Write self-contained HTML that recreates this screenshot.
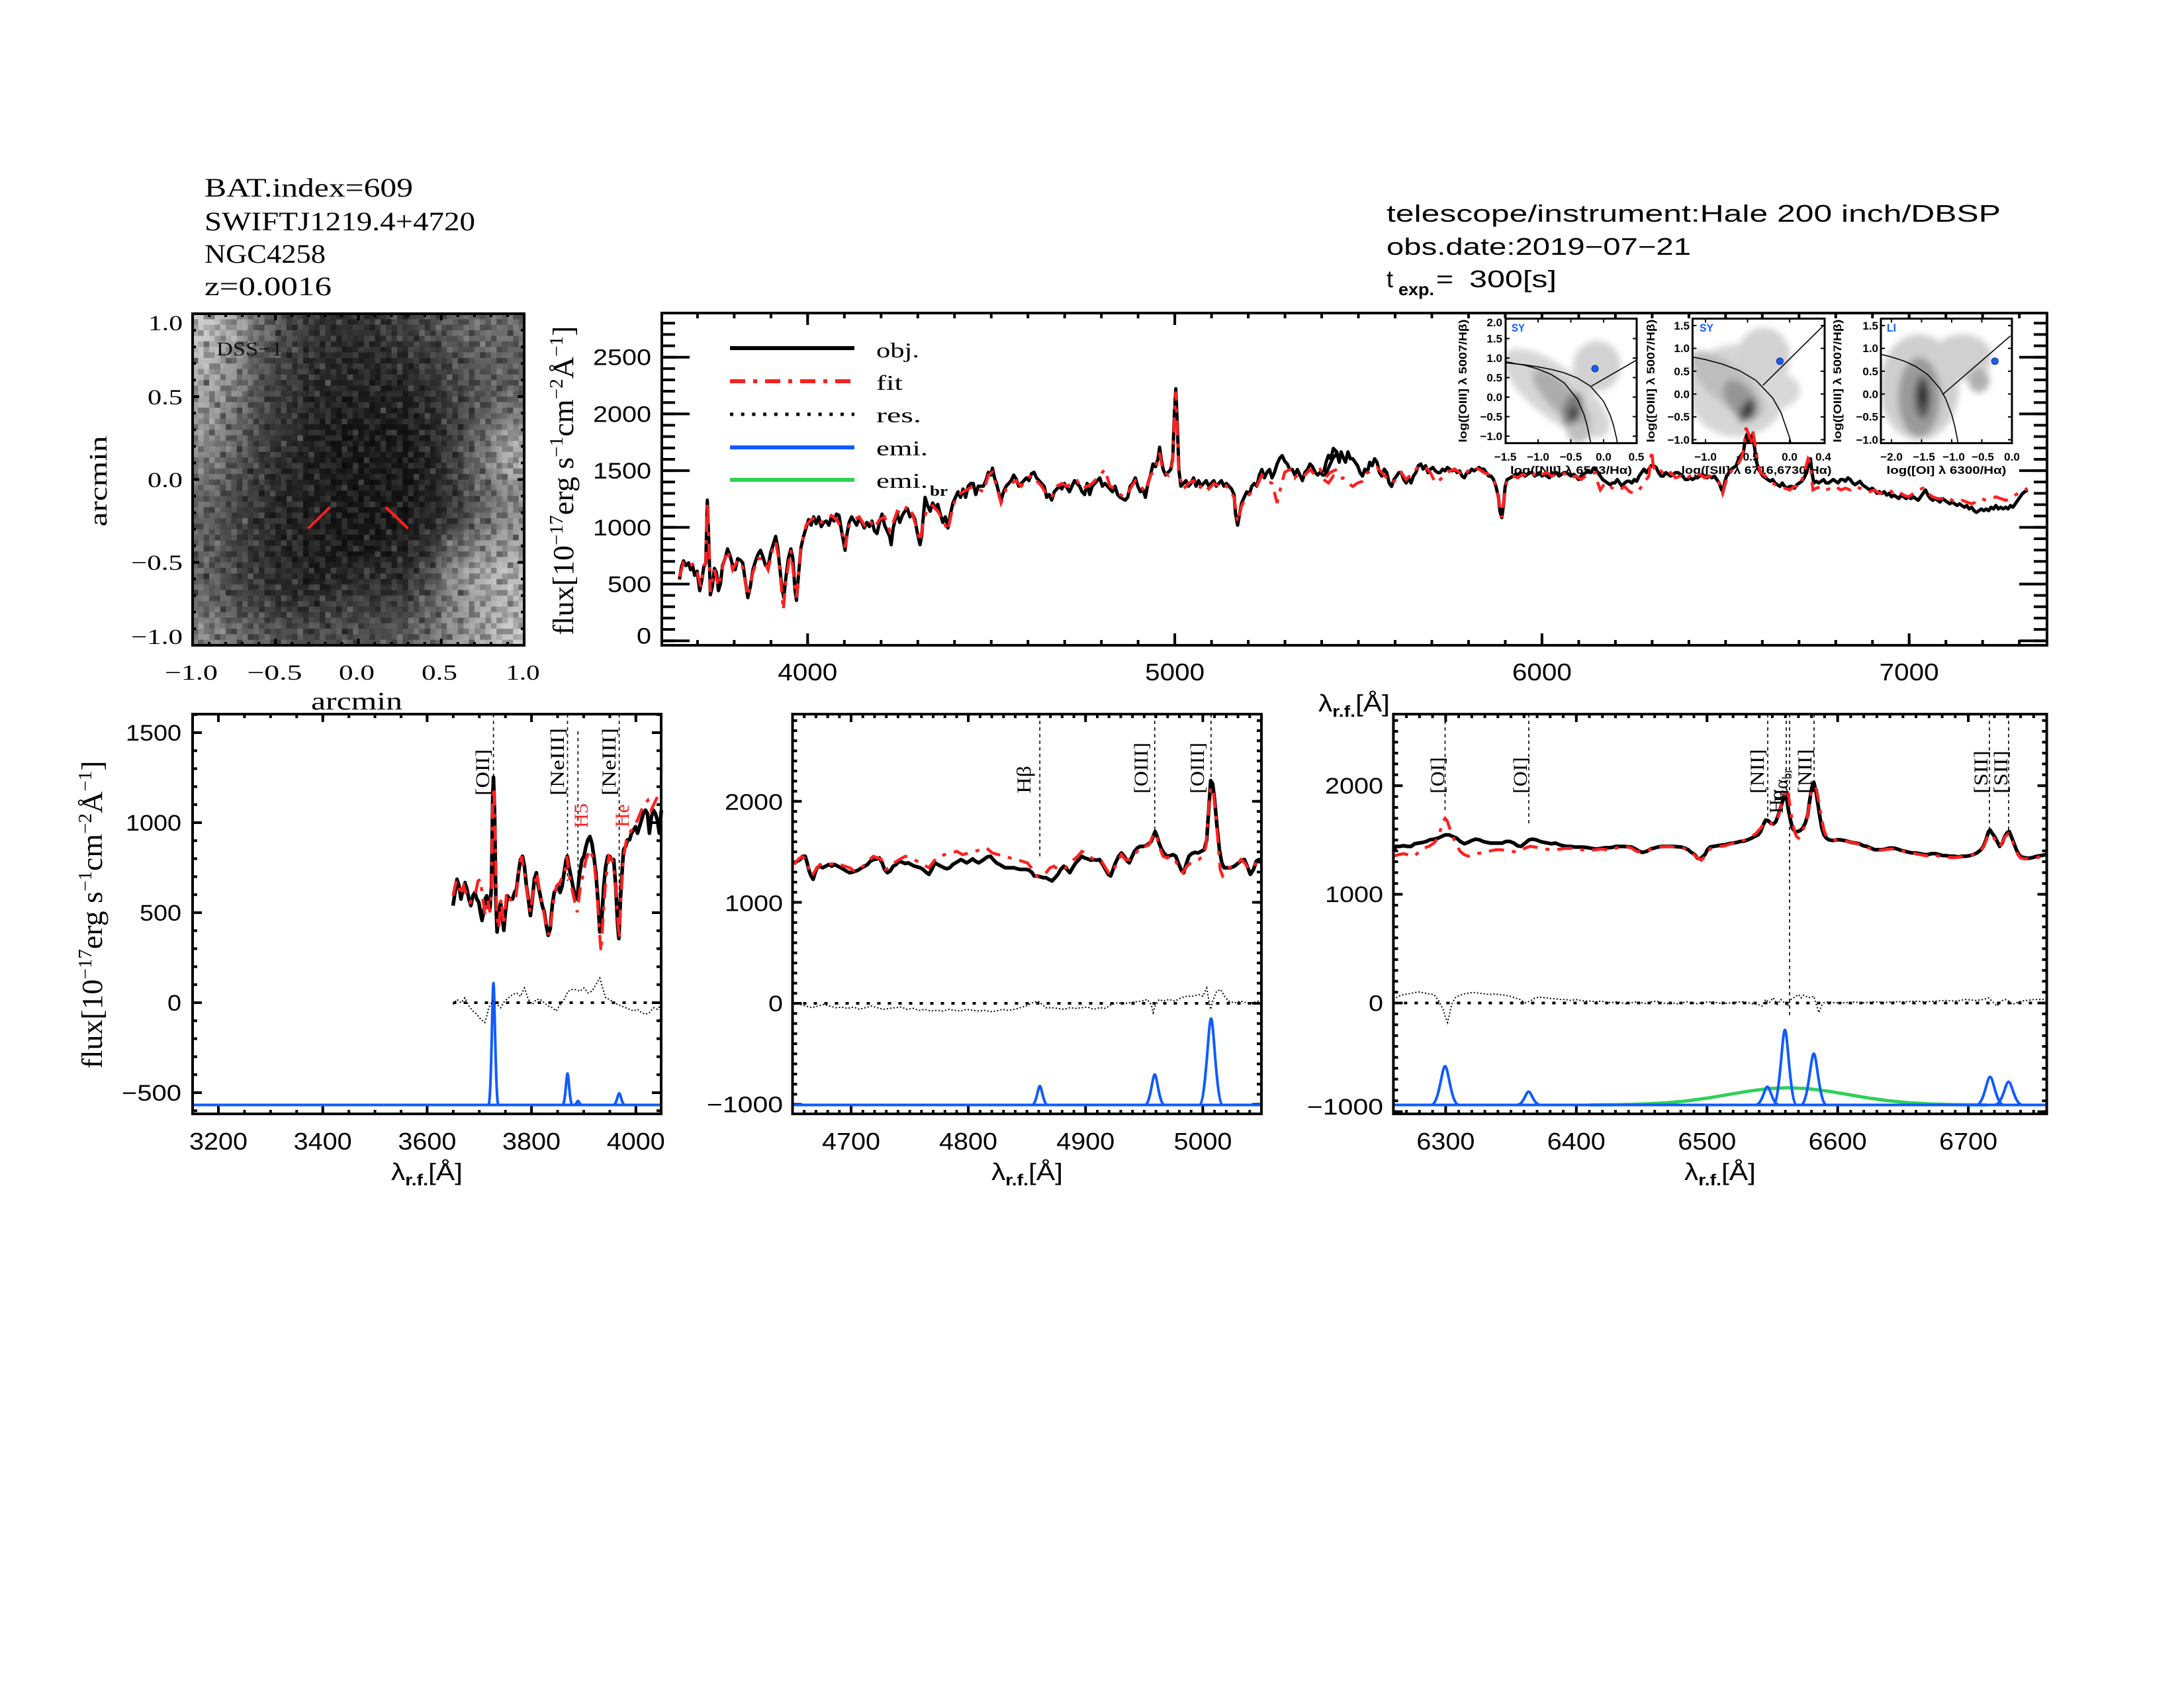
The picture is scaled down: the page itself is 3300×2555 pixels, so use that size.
<!DOCTYPE html>
<html><head><meta charset="utf-8"><style>
html,body{margin:0;padding:0;background:#fff}
.s{font-family:"Liberation Sans",Arial,sans-serif}
.r{font-family:"Liberation Serif","Times New Roman",serif}
.k{fill:none;stroke:#000;stroke-width:5;stroke-linejoin:round}
.kt{fill:none;stroke:#000;stroke-width:5.5;stroke-linejoin:round}
.rf{fill:none;stroke:#ff2020;stroke-width:4.5;stroke-dasharray:23 12 6 12}
.rs{fill:none;stroke:#000;stroke-width:2;stroke-dasharray:2 3}
.bl{fill:none;stroke:#0f5bff;stroke-width:4}
.vd{stroke:#000;stroke-width:1.6;stroke-dasharray:5 5}
.fr{fill:none;stroke:#000;stroke-width:4}
.tk line{stroke:#000}
</style></head><body>
<svg width="3300" height="2550" viewBox="0 0 3300 2550" xmlns="http://www.w3.org/2000/svg">
<defs>
<clipPath id="cimg"><rect x="291" y="474" width="501" height="501"/></clipPath>
<clipPath id="ci1"><rect x="2275" y="481.4" width="198" height="188.2"/></clipPath>
<clipPath id="ci2"><rect x="2557.4" y="481.4" width="199.6" height="188.2"/></clipPath>
<clipPath id="ci3"><rect x="2842" y="481.4" width="198" height="188.2"/></clipPath>
<filter id="bl5" x="-50%" y="-50%" width="200%" height="200%"><feGaussianBlur stdDeviation="5"/></filter>
<filter id="bimg" x="-10%" y="-10%" width="120%" height="120%"><feGaussianBlur stdDeviation="11"/></filter>
<pattern id="nA" patternUnits="userSpaceOnUse" x="291" y="474" width="58.45" height="58.45">
<g fill="#fff" fill-opacity=".1"><rect x="8.35" y="0" width="8.4" height="8.4"/><rect x="41.75" y="8.35" width="8.4" height="8.4"/><rect x="16.7" y="16.7" width="8.4" height="8.4"/><rect x="50.1" y="25.05" width="8.4" height="8.4"/><rect x="0" y="33.4" width="8.4" height="8.4"/><rect x="25.05" y="41.75" width="8.4" height="8.4"/><rect x="33.4" y="50.1" width="8.4" height="8.4"/></g>
<g fill="#000" fill-opacity=".3"><rect x="25.05" y="0" width="8.4" height="8.4"/><rect x="0" y="8.35" width="8.4" height="8.4"/><rect x="50.1" y="8.35" width="8.4" height="8.4"/><rect x="33.4" y="16.7" width="8.4" height="8.4"/><rect x="8.35" y="25.05" width="8.4" height="8.4"/><rect x="41.75" y="33.4" width="8.4" height="8.4"/><rect x="16.7" y="41.75" width="8.4" height="8.4"/><rect x="50.1" y="50.1" width="8.4" height="8.4"/></g>
<g fill="#fff" fill-opacity=".05"><rect x="0" y="0" width="8.4" height="8.4"/><rect x="33.4" y="33.4" width="8.4" height="8.4"/><rect x="16.7" y="25.05" width="8.4" height="8.4"/><rect x="41.75" y="50.1" width="8.4" height="8.4"/><rect x="50.1" y="16.7" width="8.4" height="8.4"/></g>
<g fill="#000" fill-opacity=".14"><rect x="16.7" y="0" width="8.4" height="8.4"/><rect x="25.05" y="16.7" width="8.4" height="8.4"/><rect x="8.35" y="41.75" width="8.4" height="8.4"/><rect x="33.4" y="41.75" width="8.4" height="8.4"/><rect x="0" y="50.1" width="8.4" height="8.4"/></g>
</pattern>
<pattern id="nB" patternUnits="userSpaceOnUse" x="291" y="474" width="50.1" height="50.1">
<g fill="#fff" fill-opacity=".09"><rect x="0" y="0" width="8.4" height="8.4"/><rect x="25.05" y="8.35" width="8.4" height="8.4"/><rect x="41.75" y="25.05" width="8.4" height="8.4"/><rect x="8.35" y="33.4" width="8.4" height="8.4"/><rect x="33.4" y="41.75" width="8.4" height="8.4"/></g>
<g fill="#000" fill-opacity=".2"><rect x="16.7" y="0" width="8.4" height="8.4"/><rect x="41.75" y="8.35" width="8.4" height="8.4"/><rect x="0" y="16.7" width="8.4" height="8.4"/><rect x="25.05" y="25.05" width="8.4" height="8.4"/><rect x="16.7" y="41.75" width="8.4" height="8.4"/><rect x="33.4" y="33.4" width="8.4" height="8.4"/></g>
</pattern>
<pattern id="nC" patternUnits="userSpaceOnUse" x="291" y="474" width="41.75" height="41.75">
<g fill="#fff" fill-opacity=".07"><rect x="8.35" y="8.35" width="8.4" height="8.4"/><rect x="33.4" y="16.7" width="8.4" height="8.4"/><rect x="16.7" y="33.4" width="8.4" height="8.4"/></g>
<g fill="#000" fill-opacity=".15"><rect x="25.05" y="0" width="8.4" height="8.4"/><rect x="0" y="25.05" width="8.4" height="8.4"/><rect x="16.7" y="16.7" width="8.4" height="8.4"/></g>
</pattern>
</defs>
<rect x="0" y="0" width="3300" height="2550" fill="#fff"/>

<!-- ===== Header texts ===== -->
<g class="r" font-size="40" fill="#000">
<text x="309" y="297" textLength="315" lengthAdjust="spacingAndGlyphs">BAT.index=609</text>
<text x="309" y="348" textLength="409" lengthAdjust="spacingAndGlyphs">SWIFTJ1219.4+4720</text>
<text x="309" y="397" textLength="183" lengthAdjust="spacingAndGlyphs">NGC4258</text>
<text x="309" y="446" textLength="192" lengthAdjust="spacingAndGlyphs">z=0.0016</text>
</g>
<g class="s" font-size="36" fill="#000">
<text x="2095" y="335" textLength="928" lengthAdjust="spacingAndGlyphs">telescope/instrument:Hale 200 inch/DBSP</text>
<text x="2095" y="385" textLength="460" lengthAdjust="spacingAndGlyphs">obs.date:2019−07−21</text>
<text x="2095" y="434">t</text>
<text x="2113" y="446" font-size="26" font-weight="bold" textLength="54" lengthAdjust="spacingAndGlyphs">exp.</text>
<text x="2170" y="434" textLength="26" lengthAdjust="spacingAndGlyphs">=</text>
<text x="2220" y="434" textLength="132" lengthAdjust="spacingAndGlyphs">300[s]</text>
</g>

<!-- ===== DSS image ===== -->
<g clip-path="url(#cimg)">
<rect x="291" y="474" width="501" height="501" fill="#2a2a2a"/>
<g filter="url(#bimg)">
<rect x="250" y="433" width="84" height="84" fill="#c8c8c8"/><rect x="332.75" y="433" width="42" height="84" fill="#aaaaaa"/><rect x="374.5" y="433" width="42" height="84" fill="#6e6e6e"/><rect x="416.25" y="433" width="42" height="84" fill="#464646"/><rect x="458" y="433" width="42" height="84" fill="#323232"/><rect x="499.75" y="433" width="42" height="84" fill="#2d2d2d"/><rect x="541.5" y="433" width="42" height="84" fill="#323232"/><rect x="583.25" y="433" width="42" height="84" fill="#3c3c3c"/><rect x="625" y="433" width="42" height="84" fill="#464646"/><rect x="666.75" y="433" width="42" height="84" fill="#646464"/><rect x="708.5" y="433" width="42" height="84" fill="#6e6e6e"/><rect x="750.25" y="433" width="84" height="84" fill="#6e6e6e"/>
<rect x="250" y="515.75" width="84" height="42" fill="#bebebe"/><rect x="332.75" y="515.75" width="42" height="42" fill="#969696"/><rect x="374.5" y="515.75" width="42" height="42" fill="#5a5a5a"/><rect x="416.25" y="515.75" width="42" height="42" fill="#3c3c3c"/><rect x="458" y="515.75" width="42" height="42" fill="#2d2d2d"/><rect x="499.75" y="515.75" width="42" height="42" fill="#282828"/><rect x="541.5" y="515.75" width="42" height="42" fill="#282828"/><rect x="583.25" y="515.75" width="42" height="42" fill="#2d2d2d"/><rect x="625" y="515.75" width="42" height="42" fill="#373737"/><rect x="666.75" y="515.75" width="42" height="42" fill="#505050"/><rect x="708.5" y="515.75" width="42" height="42" fill="#646464"/><rect x="750.25" y="515.75" width="84" height="42" fill="#646464"/>
<rect x="250" y="557.5" width="84" height="42" fill="#aaaaaa"/><rect x="332.75" y="557.5" width="42" height="42" fill="#8c8c8c"/><rect x="374.5" y="557.5" width="42" height="42" fill="#505050"/><rect x="416.25" y="557.5" width="42" height="42" fill="#373737"/><rect x="458" y="557.5" width="42" height="42" fill="#282828"/><rect x="499.75" y="557.5" width="42" height="42" fill="#232323"/><rect x="541.5" y="557.5" width="42" height="42" fill="#232323"/><rect x="583.25" y="557.5" width="42" height="42" fill="#232323"/><rect x="625" y="557.5" width="42" height="42" fill="#2d2d2d"/><rect x="666.75" y="557.5" width="42" height="42" fill="#464646"/><rect x="708.5" y="557.5" width="42" height="42" fill="#5a5a5a"/><rect x="750.25" y="557.5" width="84" height="42" fill="#646464"/>
<rect x="250" y="599.25" width="84" height="42" fill="#a0a0a0"/><rect x="332.75" y="599.25" width="42" height="42" fill="#787878"/><rect x="374.5" y="599.25" width="42" height="42" fill="#464646"/><rect x="416.25" y="599.25" width="42" height="42" fill="#323232"/><rect x="458" y="599.25" width="42" height="42" fill="#232323"/><rect x="499.75" y="599.25" width="42" height="42" fill="#1e1e1e"/><rect x="541.5" y="599.25" width="42" height="42" fill="#1e1e1e"/><rect x="583.25" y="599.25" width="42" height="42" fill="#1e1e1e"/><rect x="625" y="599.25" width="42" height="42" fill="#282828"/><rect x="666.75" y="599.25" width="42" height="42" fill="#3c3c3c"/><rect x="708.5" y="599.25" width="42" height="42" fill="#5a5a5a"/><rect x="750.25" y="599.25" width="84" height="42" fill="#787878"/>
<rect x="250" y="641" width="84" height="42" fill="#969696"/><rect x="332.75" y="641" width="42" height="42" fill="#6e6e6e"/><rect x="374.5" y="641" width="42" height="42" fill="#414141"/><rect x="416.25" y="641" width="42" height="42" fill="#2d2d2d"/><rect x="458" y="641" width="42" height="42" fill="#1e1e1e"/><rect x="499.75" y="641" width="42" height="42" fill="#191919"/><rect x="541.5" y="641" width="42" height="42" fill="#161616"/><rect x="583.25" y="641" width="42" height="42" fill="#191919"/><rect x="625" y="641" width="42" height="42" fill="#232323"/><rect x="666.75" y="641" width="42" height="42" fill="#3c3c3c"/><rect x="708.5" y="641" width="42" height="42" fill="#6e6e6e"/><rect x="750.25" y="641" width="84" height="42" fill="#a8a8a8"/>
<rect x="250" y="682.75" width="84" height="42" fill="#828282"/><rect x="332.75" y="682.75" width="42" height="42" fill="#5a5a5a"/><rect x="374.5" y="682.75" width="42" height="42" fill="#373737"/><rect x="416.25" y="682.75" width="42" height="42" fill="#282828"/><rect x="458" y="682.75" width="42" height="42" fill="#1e1e1e"/><rect x="499.75" y="682.75" width="42" height="42" fill="#161616"/><rect x="541.5" y="682.75" width="42" height="42" fill="#141414"/><rect x="583.25" y="682.75" width="42" height="42" fill="#161616"/><rect x="625" y="682.75" width="42" height="42" fill="#1e1e1e"/><rect x="666.75" y="682.75" width="42" height="42" fill="#3c3c3c"/><rect x="708.5" y="682.75" width="42" height="42" fill="#787878"/><rect x="750.25" y="682.75" width="84" height="42" fill="#b0b0b0"/>
<rect x="250" y="724.5" width="84" height="42" fill="#6e6e6e"/><rect x="332.75" y="724.5" width="42" height="42" fill="#4b4b4b"/><rect x="374.5" y="724.5" width="42" height="42" fill="#323232"/><rect x="416.25" y="724.5" width="42" height="42" fill="#232323"/><rect x="458" y="724.5" width="42" height="42" fill="#1c1c1c"/><rect x="499.75" y="724.5" width="42" height="42" fill="#161616"/><rect x="541.5" y="724.5" width="42" height="42" fill="#141414"/><rect x="583.25" y="724.5" width="42" height="42" fill="#161616"/><rect x="625" y="724.5" width="42" height="42" fill="#1e1e1e"/><rect x="666.75" y="724.5" width="42" height="42" fill="#373737"/><rect x="708.5" y="724.5" width="42" height="42" fill="#646464"/><rect x="750.25" y="724.5" width="84" height="42" fill="#8c8c8c"/>
<rect x="250" y="766.25" width="84" height="42" fill="#646464"/><rect x="332.75" y="766.25" width="42" height="42" fill="#464646"/><rect x="374.5" y="766.25" width="42" height="42" fill="#2d2d2d"/><rect x="416.25" y="766.25" width="42" height="42" fill="#232323"/><rect x="458" y="766.25" width="42" height="42" fill="#1c1c1c"/><rect x="499.75" y="766.25" width="42" height="42" fill="#161616"/><rect x="541.5" y="766.25" width="42" height="42" fill="#161616"/><rect x="583.25" y="766.25" width="42" height="42" fill="#191919"/><rect x="625" y="766.25" width="42" height="42" fill="#232323"/><rect x="666.75" y="766.25" width="42" height="42" fill="#373737"/><rect x="708.5" y="766.25" width="42" height="42" fill="#6e6e6e"/><rect x="750.25" y="766.25" width="84" height="42" fill="#969696"/>
<rect x="250" y="808" width="84" height="42" fill="#646464"/><rect x="332.75" y="808" width="42" height="42" fill="#464646"/><rect x="374.5" y="808" width="42" height="42" fill="#2d2d2d"/><rect x="416.25" y="808" width="42" height="42" fill="#232323"/><rect x="458" y="808" width="42" height="42" fill="#1c1c1c"/><rect x="499.75" y="808" width="42" height="42" fill="#181818"/><rect x="541.5" y="808" width="42" height="42" fill="#191919"/><rect x="583.25" y="808" width="42" height="42" fill="#232323"/><rect x="625" y="808" width="42" height="42" fill="#2d2d2d"/><rect x="666.75" y="808" width="42" height="42" fill="#6e6e6e"/><rect x="708.5" y="808" width="42" height="42" fill="#969696"/><rect x="750.25" y="808" width="84" height="42" fill="#aaaaaa"/>
<rect x="250" y="849.75" width="84" height="42" fill="#646464"/><rect x="332.75" y="849.75" width="42" height="42" fill="#464646"/><rect x="374.5" y="849.75" width="42" height="42" fill="#323232"/><rect x="416.25" y="849.75" width="42" height="42" fill="#262626"/><rect x="458" y="849.75" width="42" height="42" fill="#1e1e1e"/><rect x="499.75" y="849.75" width="42" height="42" fill="#232323"/><rect x="541.5" y="849.75" width="42" height="42" fill="#2d2d2d"/><rect x="583.25" y="849.75" width="42" height="42" fill="#282828"/><rect x="625" y="849.75" width="42" height="42" fill="#464646"/><rect x="666.75" y="849.75" width="42" height="42" fill="#969696"/><rect x="708.5" y="849.75" width="42" height="42" fill="#b4b4b4"/><rect x="750.25" y="849.75" width="84" height="42" fill="#bebebe"/>
<rect x="250" y="891.5" width="84" height="42" fill="#6e6e6e"/><rect x="332.75" y="891.5" width="42" height="42" fill="#505050"/><rect x="374.5" y="891.5" width="42" height="42" fill="#3c3c3c"/><rect x="416.25" y="891.5" width="42" height="42" fill="#2d2d2d"/><rect x="458" y="891.5" width="42" height="42" fill="#323232"/><rect x="499.75" y="891.5" width="42" height="42" fill="#3c3c3c"/><rect x="541.5" y="891.5" width="42" height="42" fill="#373737"/><rect x="583.25" y="891.5" width="42" height="42" fill="#3c3c3c"/><rect x="625" y="891.5" width="42" height="42" fill="#5a5a5a"/><rect x="666.75" y="891.5" width="42" height="42" fill="#8c8c8c"/><rect x="708.5" y="891.5" width="42" height="42" fill="#aaaaaa"/><rect x="750.25" y="891.5" width="84" height="42" fill="#b9b9b9"/>
<rect x="250" y="933.25" width="84" height="84" fill="#8c8c8c"/><rect x="332.75" y="933.25" width="42" height="84" fill="#6e6e6e"/><rect x="374.5" y="933.25" width="42" height="84" fill="#5a5a5a"/><rect x="416.25" y="933.25" width="42" height="84" fill="#505050"/><rect x="458" y="933.25" width="42" height="84" fill="#4b4b4b"/><rect x="499.75" y="933.25" width="42" height="84" fill="#505050"/><rect x="541.5" y="933.25" width="42" height="84" fill="#505050"/><rect x="583.25" y="933.25" width="42" height="84" fill="#5a5a5a"/><rect x="625" y="933.25" width="42" height="84" fill="#6e6e6e"/><rect x="666.75" y="933.25" width="42" height="84" fill="#969696"/><rect x="708.5" y="933.25" width="42" height="84" fill="#aaaaaa"/><rect x="750.25" y="933.25" width="84" height="84" fill="#c8c8c8"/>
</g>
<rect x="291" y="474" width="501" height="501" fill="url(#nA)"/>
<rect x="291" y="474" width="501" height="501" fill="url(#nB)"/>
<rect x="291" y="474" width="501" height="501" fill="url(#nC)"/>
</g>
<text x="327" y="537" class="r" font-size="30" fill="#111" textLength="100" lengthAdjust="spacingAndGlyphs">DSS−1</text>
<line x1="465.6" y1="798.5" x2="499" y2="766" stroke="#ff2020" stroke-width="4"/>
<line x1="582.6" y1="766" x2="616.5" y2="798.5" stroke="#ff2020" stroke-width="4"/>
<g class="tk">
<line x1="293.5" y1="977" x2="293.5" y2="474" stroke-width="5" stroke-dasharray="4 21.05"/>
<line x1="296" y1="977" x2="296" y2="474" stroke-width="10" stroke-dasharray="4 121.25"/>
<line x1="789.5" y1="977" x2="789.5" y2="474" stroke-width="5" stroke-dasharray="4 21.05"/>
<line x1="787" y1="977" x2="787" y2="474" stroke-width="10" stroke-dasharray="4 121.25"/>
<line x1="289" y1="972.5" x2="792" y2="972.5" stroke-width="5" stroke-dasharray="4 21.05"/>
<line x1="289" y1="970" x2="792" y2="970" stroke-width="10" stroke-dasharray="4 121.25"/>
<line x1="289" y1="476.5" x2="792" y2="476.5" stroke-width="5" stroke-dasharray="4 21.05"/>
<line x1="289" y1="479" x2="792" y2="479" stroke-width="10" stroke-dasharray="4 121.25"/>
</g>
<rect x="291" y="474" width="501" height="501" class="fr"/>
<g class="r" font-size="33" fill="#000" text-anchor="end">
<text x="276" y="499" textLength="52" lengthAdjust="spacingAndGlyphs">1.0</text>
<text x="276" y="611" textLength="53" lengthAdjust="spacingAndGlyphs">0.5</text>
<text x="276" y="736" textLength="53" lengthAdjust="spacingAndGlyphs">0.0</text>
<text x="276" y="861" textLength="78" lengthAdjust="spacingAndGlyphs">−0.5</text>
<text x="276" y="973" textLength="78" lengthAdjust="spacingAndGlyphs">−1.0</text>
</g>
<g class="r" font-size="33" fill="#000" text-anchor="middle">
<text x="289" y="1027" textLength="80" lengthAdjust="spacingAndGlyphs">−1.0</text>
<text x="415" y="1027" textLength="83" lengthAdjust="spacingAndGlyphs">−0.5</text>
<text x="539" y="1027" textLength="54" lengthAdjust="spacingAndGlyphs">0.0</text>
<text x="664" y="1027" textLength="54" lengthAdjust="spacingAndGlyphs">0.5</text>
<text x="790" y="1027" textLength="51" lengthAdjust="spacingAndGlyphs">1.0</text>
<text x="539" y="1072" font-size="38" textLength="138" lengthAdjust="spacingAndGlyphs">arcmin</text>
<text x="161" y="727" font-size="38" transform="rotate(-90 161 727)" textLength="137" lengthAdjust="spacingAndGlyphs">arcmin</text>
</g>

<!-- ===== Top spectrum panel ===== -->
<g class="tk">
<line x1="1010" y1="970.2" x2="1010" y2="473" stroke-width="20" stroke-dasharray="4 13.14"/>
<line x1="1021" y1="970.2" x2="1021" y2="473" stroke-width="42" stroke-dasharray="4 81.7"/>
<line x1="3083" y1="970.2" x2="3083" y2="473" stroke-width="20" stroke-dasharray="4 13.14"/>
<line x1="3072" y1="970.2" x2="3072" y2="473" stroke-width="42" stroke-dasharray="4 81.7"/>
<line x1="1051.9" y1="971" x2="3093" y2="971" stroke-width="8" stroke-dasharray="4 51.48"/>
<line x1="1218.3" y1="966" x2="3093" y2="966" stroke-width="18" stroke-dasharray="4 550.8"/>
<line x1="1051.9" y1="477" x2="3093" y2="477" stroke-width="8" stroke-dasharray="4 51.48"/>
<line x1="1218.3" y1="482" x2="3093" y2="482" stroke-width="18" stroke-dasharray="4 550.8"/>
</g>

<!-- insets -->
<g>
<rect x="2275" y="481.4" width="198" height="188.2" fill="#fff"/>
<rect x="2557.4" y="481.4" width="199.6" height="188.2" fill="#fff"/>
<rect x="2842" y="481.4" width="198" height="188.2" fill="#fff"/>
<g clip-path="url(#ci1)"><g filter="url(#bl5)">
<ellipse cx="2352" cy="594" rx="98" ry="38" transform="rotate(38 2352 594)" fill="#d6d6d6"/>
<ellipse cx="2413" cy="553" rx="36" ry="38" fill="#d2d2d2"/>
<ellipse cx="2385" cy="640" rx="20" ry="30" fill="#c0c0c0"/>
<ellipse cx="2358" cy="600" rx="56" ry="20" transform="rotate(45 2358 600)" fill="#acacac"/>
<ellipse cx="2376" cy="618" rx="14" ry="26" transform="rotate(20 2376 618)" fill="#7a7a7a"/>
<ellipse cx="2378" cy="625" rx="6" ry="11" fill="#3a3a3a"/>
</g>
<polyline fill="none" stroke="#000" stroke-width="1.6" points="2274.5,546.5 2304.2,552 2324,557.6 2343.8,565.7 2363.6,578.6 2383.4,603.3 2393.3,626.1 2398.25,643.3 2403.2,667.3 2404,672"/>
<polyline fill="none" stroke="#000" stroke-width="1.6" points="2274.5,548 2304.2,551.3 2324,554.3 2343.8,558.1 2363.6,563.4 2383.4,571.1 2403.2,583.5 2423,606.4 2432.9,627.1 2437.85,642.2 2442.8,663 2443.8,670"/>
<line x1="2404.8" y1="583.3" x2="2473" y2="544" stroke="#000" stroke-width="1.6"/>
</g>
<g clip-path="url(#ci2)"><g filter="url(#bl5)">
<ellipse cx="2625" cy="590" rx="75" ry="70" fill="#d6d6d6"/>
<ellipse cx="2665" cy="540" rx="40" ry="45" fill="#d2d2d2"/>
<ellipse cx="2690" cy="590" rx="30" ry="25" fill="#d8d8d8"/>
<ellipse cx="2610" cy="580" rx="70" ry="28" transform="rotate(40 2610 580)" fill="#bdbdbd"/>
<ellipse cx="2630" cy="605" rx="35" ry="20" transform="rotate(55 2630 605)" fill="#959595"/>
<ellipse cx="2640" cy="620" rx="10" ry="20" transform="rotate(30 2640 620)" fill="#5a5a5a"/>
<ellipse cx="2642" cy="621" rx="5" ry="9" fill="#2e2e2e"/>
</g>
<polyline fill="none" stroke="#000" stroke-width="1.6" points="2557.4,539.4 2577,543.3 2602.4,550.1 2627.8,559.7 2653.2,574.7 2678.6,601.3 2691.3,624 2704,661 2705.9,668.5 2706.3,672"/>
<line x1="2663.7" y1="582.2" x2="2755.4" y2="491.8" stroke="#000" stroke-width="1.6"/>
</g>
<g clip-path="url(#ci3)"><g filter="url(#bl5)">
<ellipse cx="2900" cy="585" rx="60" ry="80" fill="#cfcfcf"/>
<ellipse cx="2965" cy="540" rx="45" ry="35" fill="#d0d0d0"/>
<ellipse cx="2990" cy="575" rx="16" ry="18" fill="#b0b0b0"/>
<ellipse cx="2900" cy="600" rx="32" ry="60" fill="#9a9a9a"/>
<ellipse cx="2905" cy="600" rx="12" ry="32" fill="#555"/>
<ellipse cx="2905" cy="598" rx="5" ry="15" fill="#262626"/>
</g>
<polyline fill="none" stroke="#000" stroke-width="1.6" points="2842,535.3 2858,539.4 2876.2,545.2 2894.4,553.5 2912.6,565.8 2930.8,586.2 2939.9,602.4 2949,626.4 2953.55,643.6 2958.1,666.1 2958.6,672"/>
<line x1="2935" y1="596.3" x2="3037.8" y2="507.5" stroke="#000" stroke-width="1.6"/>
</g>
<g class="tk">
<line x1="2278" y1="660" x2="2278" y2="481" stroke-width="6" stroke-dasharray="2 27.5"/>
<line x1="2470" y1="660" x2="2470" y2="481" stroke-width="6" stroke-dasharray="2 27.5"/>
<line x1="2273.5" y1="666.6" x2="2473" y2="666.6" stroke-width="6" stroke-dasharray="2 47.5"/>
<line x1="2273.5" y1="484.4" x2="2473" y2="484.4" stroke-width="6" stroke-dasharray="2 47.5"/>
<line x1="2560.4" y1="665.4" x2="2560.4" y2="481" stroke-width="6" stroke-dasharray="2 32.5"/>
<line x1="2754" y1="665.4" x2="2754" y2="481" stroke-width="6" stroke-dasharray="2 32.5"/>
<line x1="2576" y1="666.6" x2="2757" y2="666.6" stroke-width="6" stroke-dasharray="2 61.5"/>
<line x1="2576" y1="484.4" x2="2757" y2="484.4" stroke-width="6" stroke-dasharray="2 61.5"/>
<line x1="2845" y1="665.4" x2="2845" y2="481" stroke-width="6" stroke-dasharray="2 32.5"/>
<line x1="3037" y1="665.4" x2="3037" y2="481" stroke-width="6" stroke-dasharray="2 32.5"/>
<line x1="2857" y1="666.6" x2="3040" y2="666.6" stroke-width="6" stroke-dasharray="2 43.5"/>
<line x1="2857" y1="484.4" x2="3040" y2="484.4" stroke-width="6" stroke-dasharray="2 43.5"/>
</g>
<rect x="2275" y="481.4" width="198" height="188.2" fill="none" stroke="#000" stroke-width="3"/>
<rect x="2557.4" y="481.4" width="199.6" height="188.2" fill="none" stroke="#000" stroke-width="3"/>
<rect x="2842" y="481.4" width="198" height="188.2" fill="none" stroke="#000" stroke-width="3"/>
<circle cx="2410" cy="557" r="5" fill="#1a5cff" stroke="#0a2a80" stroke-width="1"/>
<circle cx="2689.4" cy="545.7" r="5" fill="#1a5cff" stroke="#0a2a80" stroke-width="1"/>
<circle cx="3014.3" cy="545.7" r="5" fill="#1a5cff" stroke="#0a2a80" stroke-width="1"/>
<g class="s" font-size="17" font-weight="bold" fill="#0f5bff">
<text x="2284" y="501" textLength="20" lengthAdjust="spacingAndGlyphs">SY</text>
<text x="2568" y="501" textLength="21" lengthAdjust="spacingAndGlyphs">SY</text>
<text x="2851" y="501" textLength="14" lengthAdjust="spacingAndGlyphs">LI</text>
</g>
<g class="s" font-size="17" font-weight="bold" fill="#000" text-anchor="end">
<text x="2270" y="493">2.0</text><text x="2270" y="517.5">1.5</text><text x="2270" y="547">1.0</text><text x="2270" y="576.5">0.5</text><text x="2270" y="606">0.0</text><text x="2270" y="635.5">−0.5</text><text x="2270" y="665">−1.0</text>
<text x="2553" y="497.8">1.5</text><text x="2553" y="531.8">1.0</text><text x="2553" y="566.9">0.5</text><text x="2553" y="601.4">0.0</text><text x="2553" y="635.4">−0.5</text><text x="2553" y="670.4">−1.0</text>
<text x="2838" y="497.8">1.5</text><text x="2838" y="531.8">1.0</text><text x="2838" y="566.9">0.5</text><text x="2838" y="601.4">0.0</text><text x="2838" y="635.4">−0.5</text><text x="2838" y="670.4">−1.0</text>
</g>
<g class="s" font-size="17" font-weight="bold" fill="#000" text-anchor="middle">
<text x="2274.5" y="696">−1.5</text><text x="2324" y="696">−1.0</text><text x="2373.5" y="696">−0.5</text><text x="2423" y="696">0.0</text><text x="2472.5" y="696">0.5</text>
<text x="2577" y="696">−1.0</text><text x="2640.5" y="696">−0.5</text><text x="2704" y="696">0.0</text><text x="2755" y="696">0.4</text>
<text x="2858" y="696">−2.0</text><text x="2907" y="696">−1.5</text><text x="2952" y="696">−1.0</text><text x="2996" y="696">−0.5</text><text x="3040" y="696">0.0</text>
<text x="2374" y="716" textLength="184" lengthAdjust="spacingAndGlyphs">log([NII] λ 6583/Hα)</text>
<text x="2654" y="716" textLength="227" lengthAdjust="spacingAndGlyphs">log([SII] λ 6716,6730/Hα)</text>
<text x="2941" y="716" textLength="181" lengthAdjust="spacingAndGlyphs">log([OI] λ 6300/Hα)</text>
<text x="2216" y="575.5" transform="rotate(-90 2216 575.5)" textLength="186" lengthAdjust="spacingAndGlyphs">log([OIII] λ 5007/Hβ)</text>
<text x="2500" y="575.5" transform="rotate(-90 2500 575.5)" textLength="186" lengthAdjust="spacingAndGlyphs">log([OIII] λ 5007/Hβ)</text>
<text x="2782" y="575.5" transform="rotate(-90 2782 575.5)" textLength="186" lengthAdjust="spacingAndGlyphs">log([OIII] λ 5007/Hβ)</text>
</g>
</g>

<!-- top spectra -->
<g transform="matrix(0.7653 0 0 0.4209 820 440)">
<polyline vector-effect="non-scaling-stroke" class="k" points="270,1035 274,990 278,968 283,985 288,975 292,1000 296,985 300,1020 305,1005 310,1075 314,1040 318,990 322,975 325,750 328,900 331,1090 335,1060 339,995 343,1010 347,1075 351,1050 355,985 360,960 365,925 370,950 375,985 380,1000 385,960 390,965 395,975 400,1040 405,1100 410,1060 415,1000 420,970 425,945 430,930 435,955 440,985 445,990 450,940 455,910 460,880 464,920 468,990 472,1060 476,1100 480,1030 485,960 490,925 494,960 498,1070 501,1110 505,1020 510,920 515,880 520,850 525,820 530,840 535,810 540,835 545,810 550,845 555,830 560,825 565,840 570,810 575,825 580,800 585,805 590,860 594,900 597,930 600,880 605,830 610,810 615,825 620,840 625,815 630,830 635,850 640,830 645,845 650,825 655,860 660,870 665,830 670,800 675,840 680,860 685,880 688,910 692,850 696,820 700,800 705,830 710,805 715,790 720,780 725,810 730,800 735,820 740,870 745,910 748,880 752,800 755,740 760,770 765,790 770,760 775,780 780,765 785,800 790,830 795,810 800,850 805,800 810,760 815,740 820,720 825,740 830,710 835,740 840,700 845,690 850,690 855,730 860,700 865,700 870,700 875,680 880,650 885,660 888,635 892,670 896,690 900,720 905,750 910,720 915,700 920,690 925,680 930,660 935,675 940,700 945,690 950,680 955,670 960,680 965,655 970,650 975,670 980,680 985,690 990,700 995,740 1000,730 1005,750 1010,720 1015,710 1020,700 1025,710 1030,690 1035,705 1040,720 1045,700 1050,680 1055,690 1060,700 1065,720 1070,730 1075,690 1080,730 1085,700 1090,690 1095,680 1100,670 1105,700 1110,690 1115,700 1120,710 1125,720 1130,700 1135,730 1140,740 1145,745 1150,750 1155,740 1160,700 1165,690 1170,670 1175,700 1180,720 1185,710 1190,740 1195,690 1200,660 1205,620 1210,630 1215,600 1218,560 1221,600 1225,640 1230,660 1235,650 1240,640 1244,600 1247,450 1250,350 1253,480 1256,640 1260,700 1265,690 1270,680 1275,700 1280,690 1285,670 1290,700 1295,680 1300,700 1305,690 1310,680 1315,700 1320,690 1325,680 1330,700 1335,690 1340,680 1345,700 1350,690 1355,700 1360,710 1365,730 1368,800 1372,840 1376,800 1380,760 1385,740 1390,720 1395,730 1400,700 1405,690 1410,700 1415,660 1420,640 1425,670 1430,650 1435,640 1440,670 1445,650 1450,620 1455,600 1460,590 1465,610 1470,620 1475,640 1480,640 1485,660 1490,640 1495,660 1500,680 1505,650 1510,640 1515,620 1520,630 1525,650 1530,660 1535,650 1540,660 1545,660 1550,640 1555,620 1560,600 1565,590 1568,580"/>
<polyline vector-effect="non-scaling-stroke" class="rf" points="270,1025 278,975 288,990 296,980 305,1010 312,1060 318,985 322,975 325,760 328,900 331,1080 339,1000 347,1060 355,990 365,930 375,1000 385,965 395,990 405,1095 415,1010 425,960 435,960 445,1000 455,920 460,900 466,960 472,1080 475,1145 480,1040 490,930 498,1060 501,1100 510,920 520,840 530,820 540,810 550,830 560,820 570,805 580,820 590,850 597,920 605,840 615,820 625,810 635,840 645,820 655,850 665,820 675,810 685,860 692,830 700,790 710,800 720,770 730,800 740,860 745,900 752,820 760,780 770,770 780,790 790,820 800,860 810,770 820,730 830,720 840,710 850,700 860,710 870,720 880,660 888,650 896,700 905,760 915,710 925,690 935,680 945,700 955,675 965,660 975,680 985,700 995,730 1005,740 1015,700 1025,690 1035,700 1045,690 1055,680 1065,710 1075,700 1085,690 1095,670 1105,650 1110,640 1120,700 1130,710 1140,730 1150,740 1160,710 1170,680 1180,700 1190,720 1200,660 1210,640 1218,580 1225,650 1235,660 1244,610 1247,460 1250,360 1253,500 1256,660 1265,710 1275,690 1285,680 1295,710 1305,690 1315,710 1325,690 1335,700 1345,690 1355,710 1365,740 1372,830 1380,770 1390,740 1400,720 1410,700 1420,660 1430,680 1440,690 1450,760 1455,720 1465,650 1475,640 1485,670 1495,650 1505,660 1515,640 1525,660 1535,640 1545,670 1555,650 1568,640"/>
</g>
<g transform="matrix(0.7334 0 0 0.523 2000 280)">
<polyline vector-effect="non-scaling-stroke" class="k" points="0,830 5,800 10,780 15,790 20,760 27,770 32,800 36,770 40,785 45,800 50,770 55,790 60,790 65,800 70,810 75,830 80,840 85,820 90,830 95,800 100,810 105,790 110,800 115,830 120,840 125,820 130,830 135,860 140,870 145,850 150,840 155,830 160,830 165,850 170,860 175,845 180,860 185,840 190,830 195,810 200,805 205,820 210,810 215,830 220,820 225,815 230,825 235,830 240,830 245,820 250,825 255,815 260,820 265,825 270,820 275,830 280,825 285,840 290,845 295,830 300,830 305,820 310,825 315,820 320,815 325,820 330,820 335,830 340,840 345,840 350,850 355,870 360,900 363,940 367,960 370,930 374,870 378,850 385,845 390,840 395,835 400,840 405,830 410,835 415,840 420,835 425,830 430,830 435,840 440,835 445,830 450,840 455,835 460,840 465,845 470,830 475,835 480,830 485,840 490,835 495,830 500,830 505,835 510,840 515,835 520,840 525,850 530,840 535,835 540,830 545,825 550,830 555,820 560,820 565,830 570,840 575,850 580,855 585,860 590,865 595,860 600,860 605,850 610,860 615,870 620,860 625,855 630,855 635,860 640,850 645,855 650,840 655,830 660,820 665,830 670,820 675,810 680,810 685,815 690,830 695,840 700,840 705,830 710,835 715,840 720,835 725,830 730,830 735,835 740,840 745,850 750,850 755,845 760,850 765,845 770,845 775,840 780,835 785,840 790,845 795,840 800,845 805,840 810,850 815,860 820,880 823,885 826,860 830,840 835,830 840,820 845,815 850,810 855,790 860,780 865,770 868,740 872,720 876,740 880,730 884,720 888,760 892,800 896,820 900,830 905,840 910,845 915,850 920,855 925,850 930,860 935,865 940,870 945,860 950,870 955,875 960,870 965,870 970,875 975,865 980,860 985,855 990,845 995,830 1000,800 1003,790 1006,830 1010,860 1015,855 1020,860 1025,855 1030,850 1035,860 1040,860 1045,855 1050,850 1055,855 1060,860 1065,850 1070,850 1075,855 1080,845 1085,850 1090,860 1095,865 1100,860 1105,855 1110,865 1115,870 1120,875 1125,880 1130,875 1135,880 1140,890 1145,885 1150,890 1155,885 1160,895 1165,890 1170,900 1175,895 1180,900 1185,905 1190,895 1195,900 1200,905 1205,900 1210,905 1215,900 1220,905 1225,910 1230,900 1235,890 1240,880 1245,895 1250,905 1255,910 1260,905 1265,910 1270,915 1275,905 1280,910 1285,915 1290,920 1295,915 1300,920 1305,925 1310,920 1315,925 1320,930 1325,925 1330,935 1335,930 1340,940 1345,945 1350,940 1355,935 1360,940 1365,935 1370,940 1375,930 1380,935 1385,925 1390,935 1395,930 1400,935 1405,930 1410,935 1415,925 1420,930 1425,920 1430,910 1435,900 1440,890 1445,885 1450,880"/>
<polyline vector-effect="non-scaling-stroke" class="rf" points="0,850 10,860 20,840 30,850 40,845 50,860 60,870 70,860 80,855 90,830 100,825 110,815 120,830 130,845 140,860 150,850 160,830 170,850 180,835 190,820 200,810 210,815 220,830 230,860 240,850 250,835 260,825 270,820 280,830 290,840 300,820 310,815 320,820 330,830 340,835 350,850 357,880 363,930 367,960 372,900 378,850 390,840 400,845 410,835 420,840 430,830 440,845 450,835 460,830 470,840 480,835 490,830 500,835 510,845 520,840 530,850 540,840 550,835 560,830 565,860 570,880 575,870 580,860 590,870 600,880 610,880 620,870 630,885 640,890 650,880 660,860 670,840 674,790 676,765 679,810 685,830 695,825 705,840 715,830 725,845 735,840 745,850 755,840 765,845 775,835 785,845 795,840 805,850 815,860 822,890 830,850 840,825 850,815 860,790 866,760 870,700 873,710 876,720 880,750 884,710 888,740 894,800 900,830 910,840 920,855 930,865 940,870 950,875 960,880 970,870 980,870 988,840 994,810 998,790 1002,800 1008,880 1015,875 1025,870 1035,880 1045,875 1055,870 1065,880 1075,875 1085,880 1095,870 1105,875 1115,880 1125,885 1135,880 1145,890 1155,885 1165,880 1175,890 1185,885 1195,895 1205,900 1215,890 1225,880 1235,875 1245,890 1255,900 1265,905 1275,905 1285,900 1295,910 1305,915 1315,910 1325,915 1335,920 1345,915 1355,905 1365,910 1375,905 1385,900 1395,905 1405,910 1415,905 1425,895 1435,885 1445,880 1450,875"/>
</g>
<rect x="1000" y="473" width="2093" height="502" class="fr"/>

<!-- legend -->
<line x1="1103" y1="526" x2="1291" y2="526" stroke="#000" stroke-width="6"/>
<line x1="1103" y1="576" x2="1291" y2="576" stroke="#ff2020" stroke-width="6" stroke-dasharray="23 12 6 12"/>
<line x1="1103" y1="626" x2="1291" y2="626" stroke="#000" stroke-width="5" stroke-dasharray="5 11.7"/>
<line x1="1103" y1="676" x2="1291" y2="676" stroke="#0f5bff" stroke-width="6"/>
<line x1="1103" y1="725" x2="1291" y2="725" stroke="#2fd05a" stroke-width="6"/>
<g class="r" font-size="32" fill="#000">
<text x="1324" y="540" textLength="65" lengthAdjust="spacingAndGlyphs">obj.</text>
<text x="1324" y="589" textLength="40" lengthAdjust="spacingAndGlyphs">fit</text>
<text x="1324" y="638" textLength="68" lengthAdjust="spacingAndGlyphs">res.</text>
<text x="1324" y="688" textLength="78" lengthAdjust="spacingAndGlyphs">emi.</text>
<text x="1324" y="737" textLength="78" lengthAdjust="spacingAndGlyphs">emi.</text>
<text x="1405" y="749" font-size="22" font-weight="bold" textLength="27" lengthAdjust="spacingAndGlyphs">br</text>
</g>

<!-- top panel labels -->
<g class="s" font-size="34" fill="#000" text-anchor="end">
<text x="984" y="551.7" textLength="88" lengthAdjust="spacingAndGlyphs">2500</text>
<text x="984" y="637.4" textLength="88" lengthAdjust="spacingAndGlyphs">2000</text>
<text x="984" y="723" textLength="88" lengthAdjust="spacingAndGlyphs">1500</text>
<text x="984" y="808.8" textLength="88" lengthAdjust="spacingAndGlyphs">1000</text>
<text x="984" y="894.5" textLength="66" lengthAdjust="spacingAndGlyphs">500</text>
<text x="984" y="972.5" textLength="22" lengthAdjust="spacingAndGlyphs">0</text>
</g>
<g class="s" font-size="36" fill="#000" text-anchor="middle">
<text x="1220.3" y="1028" textLength="90" lengthAdjust="spacingAndGlyphs">4000</text>
<text x="1775.1" y="1028" textLength="90" lengthAdjust="spacingAndGlyphs">5000</text>
<text x="2329.9" y="1028" textLength="90" lengthAdjust="spacingAndGlyphs">6000</text>
<text x="2884.7" y="1028" textLength="90" lengthAdjust="spacingAndGlyphs">7000</text>
<text x="2046" y="1075" textLength="108" lengthAdjust="spacingAndGlyphs">λ<tspan font-size="24" font-weight="bold" dy="8">r.f.</tspan><tspan dy="-8">[Å]</tspan></text>
</g>
<text class="r" font-size="44" fill="#000" text-anchor="middle" x="866" y="726" transform="rotate(-90 866 726)" textLength="467" lengthAdjust="spacingAndGlyphs">flux[10<tspan font-size="28" dy="-16">−17</tspan><tspan dy="16">erg s</tspan><tspan font-size="28" dy="-16">−1</tspan><tspan dy="16">cm</tspan><tspan font-size="28" dy="-16">−2</tspan><tspan dy="16">Å</tspan><tspan font-size="28" dy="-16">−1</tspan><tspan dy="16">]</tspan></text>

<!-- ===== Bottom-left panel ===== -->
<g class="tk">
<line x1="294.5" y1="1680.2" x2="294.5" y2="1079" stroke-width="7" stroke-dasharray="4 23.2"/>
<line x1="298" y1="1653" x2="298" y2="1079" stroke-width="14" stroke-dasharray="4 132"/>
<line x1="995.5" y1="1680.2" x2="995.5" y2="1079" stroke-width="7" stroke-dasharray="4 23.2"/>
<line x1="992" y1="1653" x2="992" y2="1079" stroke-width="14" stroke-dasharray="4 132"/>
<line x1="328" y1="1680" x2="999" y2="1680" stroke-width="6" stroke-dasharray="4 35.425"/>
<line x1="328" y1="1677" x2="999" y2="1677" stroke-width="12" stroke-dasharray="4 153.7"/>
<line x1="328" y1="1082" x2="999" y2="1082" stroke-width="6" stroke-dasharray="4 35.425"/>
<line x1="328" y1="1085" x2="999" y2="1085" stroke-width="12" stroke-dasharray="4 153.7"/>
</g>
<line class="vd" x1="745.6" y1="1079" x2="745.6" y2="1174"/>
<line class="vd" x1="857.5" y1="1079" x2="857.5" y2="1331"/>
<line class="vd" x1="873.3" y1="1105" x2="873.3" y2="1353"/>
<line class="vd" x1="935.6" y1="1079" x2="935.6" y2="1408"/>
<line x1="291" y1="1669.5" x2="999" y2="1669.5" stroke="#0f5bff" stroke-width="4"/>
<path class="bl" d="M738.1,1669.5 C742.35,1669.5 743.85,1485.3 745.6,1485.3 C747.35,1485.3 748.85,1669.5 753.1,1669.5 M850,1669.5 C854.25,1669.5 855.75,1622 857.5,1622 C859.25,1622 860.75,1669.5 865,1669.5 M867.3,1669.5 C870.7,1669.5 871.9,1663.4 873.3,1663.4 C874.7,1663.4 875.9,1669.5 879.3,1669.5 M926.6,1669.5 C931.7,1669.5 933.5,1652 935.6,1652 C937.7,1652 939.5,1669.5 944.6,1669.5"/>
<line x1="684.5" y1="1515" x2="999" y2="1515" stroke="#000" stroke-width="4" stroke-dasharray="5 11"/>
<g transform="matrix(0.5995 0 0 0.4974 100 1060)">
<polyline vector-effect="non-scaling-stroke" class="rs" points="975,920 985,905 995,915 1005,900 1015,925 1025,940 1035,950 1045,965 1055,975 1060,955 1065,930 1075,910 1085,920 1095,930 1105,910 1115,900 1125,890 1135,885 1145,895 1155,870 1165,905 1175,920 1185,905 1195,905 1205,915 1215,925 1225,930 1235,940 1245,920 1255,905 1265,880 1275,875 1285,875 1295,880 1305,870 1315,885 1325,880 1335,860 1345,840 1352,870 1360,900 1370,905 1380,915 1390,920 1400,925 1410,930 1420,935 1430,940 1440,935 1450,945 1460,950 1470,945 1480,930 1490,935 1500,920"/>
<polyline vector-effect="non-scaling-stroke" class="kt" points="975,620 980,580 985,540 990,560 995,600 1000,570 1005,550 1010,570 1015,600 1020,620 1025,590 1030,580 1035,600 1040,610 1044,640 1048,665 1052,640 1056,600 1060,590 1064,620 1068,630 1072,560 1075,300 1077,230 1080,350 1083,600 1086,700 1090,650 1095,610 1099,650 1103,695 1107,640 1112,590 1118,600 1125,600 1130,580 1135,570 1140,520 1145,480 1150,470 1155,500 1160,560 1165,600 1170,650 1175,600 1180,540 1185,520 1190,560 1195,590 1200,620 1205,640 1210,680 1215,710 1220,690 1225,620 1230,580 1235,570 1240,560 1245,580 1250,560 1255,520 1260,480 1263,470 1267,500 1272,530 1277,560 1282,590 1288,600 1293,530 1300,480 1305,470 1310,440 1315,420 1320,410 1325,430 1330,470 1335,520 1340,600 1345,700 1350,660 1355,560 1360,500 1365,470 1370,470 1375,480 1380,480 1385,560 1390,680 1393,720 1397,600 1402,500 1405,450 1410,440 1415,420 1420,420 1425,400 1430,390 1435,380 1440,400 1445,380 1450,360 1455,340 1460,330 1465,340 1470,400 1475,350 1480,330 1485,340 1490,360 1495,400 1500,330"/>
<polyline vector-effect="non-scaling-stroke" class="rf" points="975,590 982,550 988,545 995,590 1002,560 1010,590 1018,610 1025,600 1032,580 1038,545 1044,540 1050,600 1056,650 1062,600 1068,640 1072,580 1075,300 1078,260 1081,400 1085,650 1090,690 1096,600 1103,680 1110,580 1118,600 1126,610 1134,590 1142,500 1148,470 1155,520 1162,580 1170,640 1178,570 1186,520 1194,580 1202,630 1210,680 1217,710 1224,650 1230,590 1236,560 1244,550 1252,530 1258,510 1262,470 1268,530 1275,570 1282,610 1288,640 1295,570 1302,530 1310,480 1320,450 1330,480 1338,580 1344,700 1348,760 1352,680 1360,540 1368,470 1376,480 1384,540 1390,660 1394,720 1398,600 1404,480 1412,420 1420,400 1430,380 1440,360 1450,330 1458,310 1466,300 1474,330 1482,310 1490,290 1500,300"/>
</g>
<rect x="291" y="1079" width="708" height="604" class="fr"/>
<g class="r" font-size="30" fill="#000">
<text x="739" y="1202" transform="rotate(-90 739 1202)" textLength="70" lengthAdjust="spacingAndGlyphs">[OII]</text>
<text x="852" y="1202" transform="rotate(-90 852 1202)" textLength="102" lengthAdjust="spacingAndGlyphs">[NeIII]</text>
<text x="930" y="1202" transform="rotate(-90 930 1202)" textLength="102" lengthAdjust="spacingAndGlyphs">[NeIII]</text>
<text x="888" y="1251" fill="#ff2020" transform="rotate(-90 888 1251)" textLength="37" lengthAdjust="spacingAndGlyphs">H5</text>
<text x="950" y="1250" fill="#ff2020" transform="rotate(-90 950 1250)" textLength="35" lengthAdjust="spacingAndGlyphs">He</text>
</g>
<g class="s" font-size="34" fill="#000" text-anchor="end">
<text x="274" y="1119" textLength="84" lengthAdjust="spacingAndGlyphs">1500</text>
<text x="274" y="1255" textLength="84" lengthAdjust="spacingAndGlyphs">1000</text>
<text x="274" y="1391" textLength="63" lengthAdjust="spacingAndGlyphs">500</text>
<text x="274" y="1527" textLength="21" lengthAdjust="spacingAndGlyphs">0</text>
<text x="274" y="1663" textLength="90" lengthAdjust="spacingAndGlyphs">−500</text>
</g>
<g class="s" font-size="36" fill="#000" text-anchor="middle">
<text x="330" y="1737" textLength="88" lengthAdjust="spacingAndGlyphs">3200</text>
<text x="487.7" y="1737" textLength="88" lengthAdjust="spacingAndGlyphs">3400</text>
<text x="645.4" y="1737" textLength="88" lengthAdjust="spacingAndGlyphs">3600</text>
<text x="803" y="1737" textLength="88" lengthAdjust="spacingAndGlyphs">3800</text>
<text x="960.8" y="1737" textLength="88" lengthAdjust="spacingAndGlyphs">4000</text>
<text x="645" y="1783" textLength="108" lengthAdjust="spacingAndGlyphs">λ<tspan font-size="24" font-weight="bold" dy="8">r.f.</tspan><tspan dy="-8">[Å]</tspan></text>
</g>
<text class="r" font-size="44" fill="#000" text-anchor="middle" x="154" y="1382" transform="rotate(-90 154 1382)" textLength="465" lengthAdjust="spacingAndGlyphs">flux[10<tspan font-size="28" dy="-16">−17</tspan><tspan dy="16">erg s</tspan><tspan font-size="28" dy="-16">−1</tspan><tspan dy="16">cm</tspan><tspan font-size="28" dy="-16">−2</tspan><tspan dy="16">Å</tspan><tspan font-size="28" dy="-16">−1</tspan><tspan dy="16">]</tspan></text>

<!-- ===== Bottom-middle panel ===== -->
<g class="tk">
<line x1="1201" y1="1670.6" x2="1201" y2="1079" stroke-width="7" stroke-dasharray="4 11.26"/>
<line x1="1204.5" y1="1670.6" x2="1204.5" y2="1079" stroke-width="14" stroke-dasharray="4 148.6"/>
<line x1="1902.5" y1="1670.6" x2="1902.5" y2="1079" stroke-width="7" stroke-dasharray="4 11.26"/>
<line x1="1899" y1="1670.6" x2="1899" y2="1079" stroke-width="14" stroke-dasharray="4 148.6"/>
<line x1="1213.2" y1="1680" x2="1906" y2="1680" stroke-width="6" stroke-dasharray="4 13.713"/>
<line x1="1284" y1="1677" x2="1906" y2="1677" stroke-width="12" stroke-dasharray="4 173.13"/>
<line x1="1213.2" y1="1082" x2="1906" y2="1082" stroke-width="6" stroke-dasharray="4 13.713"/>
<line x1="1284" y1="1085" x2="1906" y2="1085" stroke-width="12" stroke-dasharray="4 173.13"/>
</g>
<line class="vd" x1="1571.2" y1="1079" x2="1571.2" y2="1294"/>
<line class="vd" x1="1744.8" y1="1079" x2="1744.8" y2="1259"/>
<line class="vd" x1="1829.9" y1="1079" x2="1829.9" y2="1179"/>
<line x1="1197.5" y1="1669.5" x2="1906" y2="1669.5" stroke="#0f5bff" stroke-width="4"/>
<path class="bl" d="M1559.2,1669.5 C1566,1669.5 1568.4,1641 1571.2,1641 C1574,1641 1576.4,1669.5 1583.2,1669.5 M1729.8,1669.5 C1738.3,1669.5 1741.3,1623.5 1744.8,1623.5 C1748.3,1623.5 1751.3,1669.5 1759.8,1669.5 M1811.9,1669.5 C1822.1,1669.5 1825.7,1539 1829.9,1539 C1834.1,1539 1837.7,1669.5 1847.9,1669.5"/>
<line x1="1197.5" y1="1516" x2="1906" y2="1516" stroke="#000" stroke-width="4" stroke-dasharray="5 11"/>
<g transform="matrix(0.5995 0 0 0.4974 1020 1060)">
<polyline vector-effect="non-scaling-stroke" class="rs" points="300,915 315,920 330,925 345,930 360,925 375,920 390,925 405,930 420,928 435,932 450,928 465,935 480,930 495,925 510,930 525,935 540,932 555,930 570,928 585,935 600,932 615,938 630,935 645,940 660,938 675,940 690,935 705,938 720,940 735,935 750,938 765,940 780,938 795,942 810,940 825,935 840,938 855,935 870,930 885,925 900,915 915,910 925,920 935,930 950,930 965,932 980,935 995,930 1010,932 1025,930 1040,928 1055,935 1070,930 1085,932 1100,920 1115,915 1130,918 1145,915 1160,912 1175,910 1190,905 1200,920 1205,945 1210,925 1220,905 1230,910 1245,905 1260,910 1275,900 1290,895 1305,895 1320,890 1330,895 1340,870 1345,905 1350,935 1355,910 1365,880 1375,875 1385,895 1395,910 1410,915 1425,910 1440,915 1455,915 1470,910 1478,915"/>
<polyline vector-effect="non-scaling-stroke" class="kt" points="300,490 308,485 315,480 322,470 328,470 333,490 338,515 343,530 348,540 353,520 358,505 365,500 372,505 380,500 388,495 395,500 402,495 410,500 418,505 425,510 432,515 440,520 448,518 455,515 462,512 470,505 478,500 485,495 492,485 500,480 508,478 515,475 522,490 528,510 535,520 542,515 550,500 557,495 565,485 572,488 580,492 588,490 595,495 603,500 610,502 618,505 625,510 632,518 640,525 647,510 655,490 662,495 670,500 678,505 685,508 692,505 700,495 707,490 714,485 720,480 728,485 735,490 742,485 750,478 757,485 765,490 772,485 780,478 787,472 795,470 802,480 810,490 818,495 825,500 832,505 840,505 848,505 855,505 862,508 870,510 878,510 885,510 892,512 900,520 905,530 912,530 920,532 928,535 935,535 942,540 950,545 958,535 965,525 972,510 980,500 988,510 995,520 1002,505 1010,490 1018,480 1025,470 1032,475 1040,478 1048,482 1055,480 1062,482 1070,480 1078,495 1085,510 1092,525 1098,530 1104,510 1110,490 1118,470 1125,460 1132,470 1140,485 1145,490 1152,470 1158,455 1165,445 1172,440 1180,440 1187,438 1194,432 1200,425 1205,410 1210,395 1215,410 1220,430 1225,445 1232,460 1240,470 1248,468 1255,465 1262,470 1270,495 1277,515 1282,520 1288,495 1295,470 1302,462 1310,458 1318,460 1326,455 1334,450 1340,420 1345,330 1350,240 1355,250 1360,300 1366,380 1372,450 1378,490 1384,505 1392,505 1400,505 1410,500 1420,490 1428,482 1435,480 1442,500 1450,525 1458,510 1465,485 1472,480 1478,490"/>
<polyline vector-effect="non-scaling-stroke" class="rf" points="300,495 310,480 320,470 330,480 338,510 345,530 355,510 365,495 378,500 390,495 402,490 415,495 428,500 440,505 452,515 465,510 478,495 490,480 500,470 510,475 520,480 530,510 540,505 552,490 565,480 580,470 595,475 610,485 625,495 640,505 652,485 665,470 680,465 695,460 710,455 725,465 740,460 755,455 770,450 785,445 800,460 815,465 830,470 845,475 860,480 875,485 888,490 898,505 905,525 915,532 925,530 935,520 945,505 955,500 965,510 975,510 985,505 995,495 1005,480 1015,470 1025,455 1035,460 1045,470 1055,480 1065,480 1075,485 1085,505 1095,525 1105,510 1115,490 1125,465 1135,480 1145,480 1155,470 1165,455 1175,440 1185,440 1195,435 1205,405 1212,400 1220,440 1230,470 1240,475 1250,470 1260,480 1270,505 1280,520 1290,500 1300,490 1310,485 1320,480 1330,470 1338,440 1344,340 1350,260 1356,270 1362,330 1368,420 1374,510 1380,530 1388,520 1396,505 1406,500 1416,495 1426,480 1436,490 1446,510 1456,500 1466,490 1478,480"/>
</g>
<rect x="1197.5" y="1079" width="708.5" height="604" class="fr"/>
<g class="r" font-size="30" fill="#000">
<text x="1557" y="1199" transform="rotate(-90 1557 1199)" textLength="42" lengthAdjust="spacingAndGlyphs">Hβ</text>
<text x="1734" y="1199" transform="rotate(-90 1734 1199)" textLength="77" lengthAdjust="spacingAndGlyphs">[OIII]</text>
<text x="1819" y="1199" transform="rotate(-90 1819 1199)" textLength="77" lengthAdjust="spacingAndGlyphs">[OIII]</text>
</g>
<g class="s" font-size="34" fill="#000" text-anchor="end">
<text x="1183" y="1223.7" textLength="88" lengthAdjust="spacingAndGlyphs">2000</text>
<text x="1183" y="1376.5" textLength="88" lengthAdjust="spacingAndGlyphs">1000</text>
<text x="1183" y="1528" textLength="22" lengthAdjust="spacingAndGlyphs">0</text>
<text x="1183" y="1680.6" textLength="115" lengthAdjust="spacingAndGlyphs">−1000</text>
</g>
<g class="s" font-size="36" fill="#000" text-anchor="middle">
<text x="1286" y="1737" textLength="88" lengthAdjust="spacingAndGlyphs">4700</text>
<text x="1463" y="1737" textLength="88" lengthAdjust="spacingAndGlyphs">4800</text>
<text x="1640.3" y="1737" textLength="88" lengthAdjust="spacingAndGlyphs">4900</text>
<text x="1817.5" y="1737" textLength="88" lengthAdjust="spacingAndGlyphs">5000</text>
<text x="1552" y="1783" textLength="108" lengthAdjust="spacingAndGlyphs">λ<tspan font-size="24" font-weight="bold" dy="8">r.f.</tspan><tspan dy="-8">[Å]</tspan></text>
</g>

<!-- ===== Bottom-right panel ===== -->
<g class="tk">
<line x1="2109" y1="1681.7" x2="2109" y2="1079" stroke-width="7" stroke-dasharray="4 12.42"/>
<line x1="2112.4" y1="1681.7" x2="2112.4" y2="1079" stroke-width="14" stroke-dasharray="4 160.2"/>
<line x1="3089" y1="1681.7" x2="3089" y2="1079" stroke-width="7" stroke-dasharray="4 12.42"/>
<line x1="3085.6" y1="1681.7" x2="3085.6" y2="1079" stroke-width="14" stroke-dasharray="4 160.2"/>
<line x1="2123.1" y1="1680" x2="3092.6" y2="1680" stroke-width="6" stroke-dasharray="4 15.744"/>
<line x1="2182.4" y1="1677" x2="3092.6" y2="1677" stroke-width="12" stroke-dasharray="4 193.44"/>
<line x1="2123.1" y1="1082" x2="3092.6" y2="1082" stroke-width="6" stroke-dasharray="4 15.744"/>
<line x1="2182.4" y1="1085" x2="3092.6" y2="1085" stroke-width="12" stroke-dasharray="4 193.44"/>
</g>
<line class="vd" x1="2183.5" y1="1079" x2="2183.5" y2="1229"/>
<line class="vd" x1="2310" y1="1079" x2="2310" y2="1244"/>
<line class="vd" x1="2671" y1="1079" x2="2671" y2="1239"/>
<line class="vd" x1="2699" y1="1079" x2="2699" y2="1215"/>
<line class="vd" x1="2704" y1="1079" x2="2704" y2="1537"/>
<line class="vd" x1="2741" y1="1079" x2="2741" y2="1184"/>
<line class="vd" x1="3006" y1="1079" x2="3006" y2="1254"/>
<line class="vd" x1="3035" y1="1079" x2="3035" y2="1256"/>
<polyline fill="none" stroke="#2fd05a" stroke-width="5" points="2402,1669.5 2432,1669.2 2462,1668.8 2492,1667.8 2522,1666 2552,1663 2582,1658.8 2612,1653.7 2642,1648.7 2672,1644.9 2702,1643.5 2732,1644.9 2762,1648.7 2792,1653.7 2822,1658.8 2852,1663 2882,1666 2912,1667.8 2942,1668.8 2972,1669.2 3002,1669.5"/>
<line x1="2105.4" y1="1669.5" x2="3092.6" y2="1669.5" stroke="#0f5bff" stroke-width="4"/>
<path class="bl" d="M2162.5,1669.5 C2174.4,1669.5 2178.6,1611 2183.5,1611 C2188.4,1611 2192.6,1669.5 2204.5,1669.5 M2291.7,1669.5 C2302.3,1669.5 2305.5,1649.4 2309.7,1649.4 C2313.9,1649.4 2317.5,1669.5 2327.7,1669.5 M2652.5,1669.5 C2662.7,1669.5 2666.3,1642 2670.5,1642 C2674.7,1642 2678.3,1669.5 2688.5,1669.5 M2679,1669.5 C2689.2,1669.5 2692.8,1556 2697,1556 C2701.2,1556 2704.8,1669.5 2715,1669.5 M2721.1,1669.5 C2732.15,1669.5 2736.05,1592 2740.6,1592 C2745.15,1592 2749.05,1669.5 2760.1,1669.5 M2986,1669.5 C2997.9,1669.5 3002.1,1627 3007,1627 C3011.9,1627 3016.1,1669.5 3028,1669.5 M3014,1669.5 C3025.9,1669.5 3030.1,1634.5 3035,1634.5 C3039.9,1634.5 3044.1,1669.5 3056,1669.5"/>
<line x1="2105.4" y1="1515.5" x2="3092.6" y2="1515.5" stroke="#000" stroke-width="4" stroke-dasharray="5 11"/>
<g transform="matrix(0.7653 0 0 0.4974 1960 1060)">
<polyline vector-effect="non-scaling-stroke" class="rs" points="190,905 200,895 210,890 220,888 230,885 240,882 250,885 260,888 270,890 280,910 288,935 293,960 297,975 300,955 305,920 312,900 320,893 330,888 340,885 350,884 360,886 370,888 380,890 390,888 400,890 410,892 420,895 430,900 440,905 450,915 460,910 470,900 480,898 490,900 500,902 510,903 520,905 530,905 540,908 550,905 560,908 570,910 580,910 590,912 600,910 610,913 620,915 630,912 640,915 650,918 660,915 670,912 680,915 690,918 700,912 710,910 720,915 730,918 740,915 750,918 760,915 770,912 780,915 790,918 800,915 810,913 820,912 830,915 840,918 850,916 860,915 870,913 880,912 890,915 900,918 910,920 918,925 925,905 932,915 940,900 948,920 955,905 962,915 968,925 975,905 985,895 990,890 995,900 1000,892 1010,900 1020,895 1025,920 1030,945 1035,925 1040,915 1050,912 1060,915 1080,915 1100,913 1120,915 1140,912 1160,914 1180,912 1200,912 1220,910 1240,912 1260,910 1280,908 1300,910 1320,905 1340,908 1355,905 1365,900 1375,915 1382,925 1390,910 1398,905 1405,910 1412,920 1420,915 1430,910 1440,908 1455,905 1470,905 1480,905"/>
<polyline vector-effect="non-scaling-stroke" class="kt" points="190,455 195,440 202,440 210,438 218,440 225,440 232,432 240,430 248,428 255,425 262,420 270,418 278,415 285,410 292,405 300,405 307,410 315,415 322,425 330,432 337,428 345,422 352,418 360,420 367,425 375,428 382,430 390,430 398,430 405,430 412,425 420,425 428,430 435,438 442,440 450,430 458,420 465,418 472,420 480,425 488,428 495,430 502,432 510,430 518,435 525,438 532,440 540,440 548,442 555,442 562,442 570,443 578,445 585,447 592,448 600,446 608,444 615,444 622,443 630,440 638,440 645,440 652,441 660,442 668,448 675,455 682,458 690,455 698,448 705,445 712,442 720,440 728,440 735,440 742,440 750,441 758,442 765,445 772,450 778,458 785,465 790,475 795,478 800,472 805,465 810,450 815,442 822,440 830,438 838,436 845,435 852,432 860,430 868,428 875,425 882,424 890,420 897,415 903,410 910,405 915,395 920,375 925,360 930,362 935,370 940,372 945,365 950,345 955,320 960,295 963,290 967,300 970,330 974,360 978,385 983,395 988,395 993,392 998,385 1003,370 1008,345 1012,300 1016,262 1020,245 1024,270 1028,310 1032,350 1036,385 1040,405 1045,415 1050,420 1058,422 1065,420 1072,420 1080,422 1088,425 1095,428 1102,430 1110,432 1118,438 1125,440 1132,445 1140,450 1148,450 1155,450 1162,448 1170,445 1178,445 1185,448 1192,452 1200,455 1208,458 1215,460 1222,460 1230,462 1238,465 1245,465 1252,462 1260,462 1268,465 1275,468 1282,468 1290,470 1298,470 1305,472 1312,470 1320,470 1328,468 1335,465 1342,460 1350,450 1355,440 1360,420 1365,395 1368,390 1372,400 1377,410 1382,425 1387,440 1392,430 1397,410 1402,398 1406,395 1410,410 1415,430 1420,450 1425,465 1430,472 1438,475 1445,476 1452,474 1460,470 1468,468 1475,466 1480,465"/>
<polyline vector-effect="non-scaling-stroke" class="rf" points="190,470 200,465 210,462 220,466 230,470 240,458 250,445 260,440 270,430 278,415 284,385 288,365 292,355 296,362 300,380 305,400 310,420 316,440 322,455 330,465 338,470 346,468 354,462 362,460 370,458 378,455 386,452 394,450 402,450 410,452 420,455 430,456 440,455 450,445 460,440 470,442 480,445 490,448 500,450 510,450 520,448 530,446 540,446 550,448 560,450 570,452 580,452 590,450 600,448 610,450 620,452 630,445 640,440 650,441 660,445 670,455 680,458 690,454 700,448 710,444 720,441 730,440 740,441 750,442 760,444 770,450 780,460 790,474 798,482 806,468 815,448 825,442 835,440 845,438 855,433 865,428 875,425 885,420 895,412 905,402 915,385 922,368 930,366 938,372 945,368 952,340 958,300 962,275 966,262 970,285 974,330 978,365 982,395 986,410 990,415 995,400 1000,385 1005,370 1010,325 1015,275 1020,258 1025,265 1030,305 1035,350 1040,390 1045,410 1052,418 1060,420 1070,422 1080,424 1090,426 1100,430 1110,434 1120,440 1130,446 1140,450 1150,452 1160,450 1170,448 1180,448 1190,452 1200,456 1210,458 1220,462 1230,465 1240,468 1250,470 1260,468 1270,470 1280,472 1290,474 1300,474 1310,472 1320,472 1330,468 1340,462 1350,452 1356,440 1362,415 1368,402 1373,408 1378,420 1383,435 1388,440 1393,425 1398,410 1404,402 1410,415 1416,440 1422,462 1428,475 1436,478 1446,478 1456,476 1466,472 1474,470 1480,468"/>
</g>
<rect x="2105.4" y="1079" width="987.2" height="604" class="fr"/>
<g class="r" font-size="30" fill="#000">
<text x="2182" y="1199" transform="rotate(-90 2182 1199)" textLength="55" lengthAdjust="spacingAndGlyphs">[OI]</text>
<text x="2307" y="1199" transform="rotate(-90 2307 1199)" textLength="55" lengthAdjust="spacingAndGlyphs">[OI]</text>
<text x="2665" y="1199" transform="rotate(-90 2665 1199)" textLength="67" lengthAdjust="spacingAndGlyphs">[NII]</text>
<text x="2694" y="1229" transform="rotate(-90 2694 1229)" textLength="36" lengthAdjust="spacingAndGlyphs">Hα</text>
<text x="2701" y="1212" transform="rotate(-90 2701 1212)" textLength="50" lengthAdjust="spacingAndGlyphs">Hα<tspan font-size="20" dy="6">br</tspan></text>
<text x="2737" y="1199" transform="rotate(-90 2737 1199)" textLength="67" lengthAdjust="spacingAndGlyphs">[NII]</text>
<text x="3003" y="1199" transform="rotate(-90 3003 1199)" textLength="65" lengthAdjust="spacingAndGlyphs">[SII]</text>
<text x="3033" y="1199" transform="rotate(-90 3033 1199)" textLength="65" lengthAdjust="spacingAndGlyphs">[SII]</text>
</g>
<g class="s" font-size="34" fill="#000" text-anchor="end">
<text x="2090" y="1199" textLength="88" lengthAdjust="spacingAndGlyphs">2000</text>
<text x="2090" y="1363" textLength="88" lengthAdjust="spacingAndGlyphs">1000</text>
<text x="2090" y="1527.5" textLength="22" lengthAdjust="spacingAndGlyphs">0</text>
<text x="2090" y="1684" textLength="115" lengthAdjust="spacingAndGlyphs">−1000</text>
</g>
<g class="s" font-size="36" fill="#000" text-anchor="middle">
<text x="2184.4" y="1737" textLength="88" lengthAdjust="spacingAndGlyphs">6300</text>
<text x="2381.8" y="1737" textLength="88" lengthAdjust="spacingAndGlyphs">6400</text>
<text x="2579.3" y="1737" textLength="88" lengthAdjust="spacingAndGlyphs">6500</text>
<text x="2776.7" y="1737" textLength="88" lengthAdjust="spacingAndGlyphs">6600</text>
<text x="2974.1" y="1737" textLength="88" lengthAdjust="spacingAndGlyphs">6700</text>
<text x="2599" y="1783" textLength="108" lengthAdjust="spacingAndGlyphs">λ<tspan font-size="24" font-weight="bold" dy="8">r.f.</tspan><tspan dy="-8">[Å]</tspan></text>
</g>
</svg>
</body></html>
